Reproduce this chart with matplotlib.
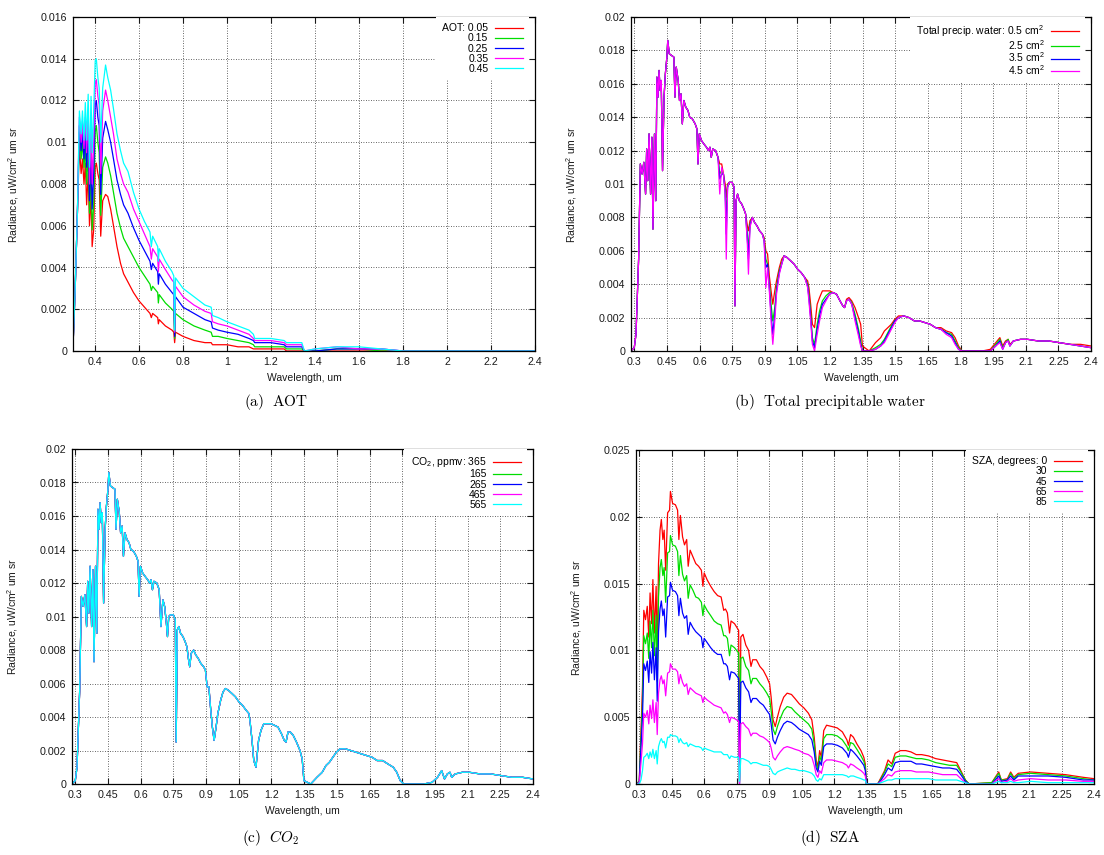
import numpy as np
import matplotlib
matplotlib.use("Agg")
import matplotlib.pyplot as plt
from matplotlib.ticker import MultipleLocator, FuncFormatter

plt.rcParams['font.family'] = ['Liberation Sans', 'DejaVu Sans']
plt.rcParams['mathtext.fontset'] = 'custom'
plt.rcParams['mathtext.rm'] = 'Liberation Sans'
plt.rcParams['mathtext.it'] = 'Liberation Sans:italic'

# ---------------- (a) AOT ----------------
wl_a = [0.300, 0.310, 0.320, 0.329, 0.337, 0.343, 0.350, 0.356, 0.362, 0.369,
        0.375, 0.382, 0.387, 0.394, 0.401, 0.406, 0.413, 0.419, 0.426, 0.435,
        0.448, 0.458, 0.471, 0.484, 0.500, 0.516, 0.530, 0.550, 0.575, 0.600,
        0.625, 0.650, 0.656, 0.662, 0.685, 0.688, 0.692, 0.720, 0.750, 0.758,
        0.762, 0.766, 0.800, 0.850, 0.900, 0.928, 0.934, 0.960, 1.000, 1.050,
        1.100, 1.120, 1.126, 1.200, 1.260, 1.270, 1.340, 1.352, 1.400, 1.500,
        1.600, 1.700, 1.800, 2.000, 2.400]
aot_005 = [0.0002, 0.0030, 0.0066, 0.0098, 0.0085, 0.0092, 0.0080, 0.0090, 0.0070, 0.0085,
           0.0060, 0.0075, 0.0050, 0.0058, 0.0088, 0.0090, 0.0085, 0.0082, 0.0055, 0.0072,
           0.0075, 0.0074, 0.0068, 0.0060, 0.0050, 0.0042, 0.0037, 0.0033, 0.0028, 0.0024,
           0.0021, 0.0018, 0.0016, 0.0018, 0.0016, 0.0013, 0.0015, 0.0012, 0.0010, 0.0009,
           0.0004, 0.0009, 0.0007, 0.0005, 0.0004, 0.0004, 0.0003, 0.0003, 0.0003, 0.0002,
           0.0002, 0.0001, 0.0001, 0.0001, 0.0001, 0.0, 0.0, 0.0, 0.0, 0.0,
           0.0, 0.0, 0.0, 0.0, 0.0]
aot_015 = [0.0002, 0.0030, 0.0066, 0.0105, 0.0092, 0.0100, 0.0088, 0.0098, 0.0080, 0.0095,
           0.0066, 0.0085, 0.0058, 0.0070, 0.0105, 0.0108, 0.0100, 0.0095, 0.0065, 0.0088,
           0.0093, 0.0090, 0.0084, 0.0076, 0.0066, 0.0059, 0.0054, 0.0050, 0.0045, 0.0040,
           0.0036, 0.0032, 0.0029, 0.0031, 0.0028, 0.0023, 0.0027, 0.0023, 0.0020, 0.0019,
           0.0006, 0.0018, 0.0015, 0.0012, 0.0010, 0.0009, 0.0007, 0.0007, 0.0006, 0.0005,
           0.0004, 0.0003, 0.0002, 0.0002, 0.0002, 0.0001, 0.0001, 0.0, 0.0, 0.0001,
           0.0001, 0.0, 0.0, 0.0, 0.0]
aot_025 = [0.0002, 0.0030, 0.0066, 0.0108, 0.0096, 0.0105, 0.0092, 0.0105, 0.0088, 0.0105,
           0.0072, 0.0095, 0.0068, 0.0085, 0.0118, 0.0120, 0.0112, 0.0108, 0.0075, 0.0102,
           0.0110, 0.0106, 0.0100, 0.0092, 0.0082, 0.0075, 0.0070, 0.0066, 0.0059, 0.0053,
           0.0048, 0.0043, 0.0039, 0.0042, 0.0038, 0.0032, 0.0037, 0.0032, 0.0028, 0.0027,
           0.0007, 0.0026, 0.0021, 0.0018, 0.0015, 0.0014, 0.0011, 0.0010, 0.0009, 0.0008,
           0.0006, 0.0005, 0.0004, 0.0004, 0.0003, 0.0002, 0.0002, 0.0, 0.0, 0.0001,
           0.0001, 0.0001, 0.0, 0.0, 0.0]
aot_035 = [0.0002, 0.0030, 0.0066, 0.0112, 0.0100, 0.0110, 0.0097, 0.0112, 0.0095, 0.0115,
           0.0080, 0.0108, 0.0080, 0.0100, 0.0128, 0.0130, 0.0122, 0.0118, 0.0085, 0.0115,
           0.0125, 0.0120, 0.0112, 0.0104, 0.0092, 0.0085, 0.0080, 0.0076, 0.0068, 0.0062,
           0.0056, 0.0050, 0.0044, 0.0049, 0.0045, 0.0038, 0.0044, 0.0039, 0.0034, 0.0033,
           0.0009, 0.0031, 0.0026, 0.0022, 0.0019, 0.0018, 0.0014, 0.0013, 0.0012, 0.0010,
           0.0008, 0.0006, 0.0005, 0.0005, 0.0004, 0.0003, 0.0003, 0.0, 0.0001, 0.0002,
           0.0001, 0.0001, 0.0, 0.0, 0.0]
aot_045 = [0.0002, 0.0030, 0.0066, 0.0115, 0.0104, 0.0115, 0.0101, 0.0119, 0.0101, 0.0123,
           0.0088, 0.0122, 0.0095, 0.0115, 0.0139, 0.0140, 0.0131, 0.0126, 0.0100, 0.0126,
           0.0137, 0.0131, 0.0125, 0.0116, 0.0104, 0.0096, 0.0090, 0.0086, 0.0076, 0.0068,
           0.0062, 0.0057, 0.0050, 0.0055, 0.0050, 0.0043, 0.0049, 0.0043, 0.0038, 0.0036,
           0.0010, 0.0035, 0.0030, 0.0026, 0.0022, 0.0021, 0.0017, 0.0016, 0.0014, 0.0012,
           0.0010, 0.0008, 0.0006, 0.0006, 0.0005, 0.0004, 0.0004, 0.0, 0.0001, 0.0002,
           0.0002, 0.0001, 0.0, 0.0, 0.0]
aot_labels = ['AOT: 0.05', '0.15', '0.25', '0.35', '0.45']

# ---------------- (b) total precipitable water / (c) CO2 ----------------
wl_b = [0.285, 0.300, 0.308, 0.320, 0.328, 0.336, 0.344, 0.352, 0.357, 0.362,
        0.368, 0.375, 0.381, 0.386, 0.393, 0.399, 0.404, 0.409, 0.414, 0.419,
        0.424, 0.430, 0.437, 0.443, 0.450, 0.454, 0.461, 0.471, 0.482, 0.487,
        0.493, 0.502, 0.508, 0.515, 0.521, 0.528, 0.537, 0.547, 0.555, 0.567,
        0.580, 0.588, 0.593, 0.599, 0.609, 0.620, 0.632, 0.641, 0.648, 0.654,
        0.661, 0.674, 0.685, 0.693, 0.702, 0.710, 0.718, 0.723, 0.729, 0.737,
        0.750, 0.759, 0.763, 0.768, 0.775, 0.783, 0.794, 0.804, 0.812, 0.820,
        0.825, 0.832, 0.843, 0.853, 0.864, 0.876, 0.889, 0.897, 0.905, 0.913,
        0.921, 0.929, 0.937, 0.946, 0.954, 0.967, 0.978, 0.989, 1.002, 1.019,
        1.035, 1.051, 1.067, 1.084, 1.097, 1.103, 1.111, 1.119, 1.129, 1.141,
        1.152, 1.165, 1.181, 1.198, 1.214, 1.230, 1.246, 1.259, 1.267, 1.276,
        1.287, 1.300, 1.315, 1.331, 1.341, 1.349, 1.380, 1.409, 1.433, 1.450,
        1.466, 1.482, 1.498, 1.515, 1.539, 1.563, 1.588, 1.612, 1.637, 1.661,
        1.685, 1.710, 1.734, 1.759, 1.775, 1.791, 1.807, 1.900, 1.937, 1.962,
        1.981, 1.994, 2.007, 2.019, 2.027, 2.043, 2.076, 2.108, 2.157, 2.206,
        2.254, 2.303, 2.352, 2.400]
water_05 = [0.0, 0.0002, 0.0010, 0.0055, 0.0112, 0.0106, 0.0113, 0.0094, 0.0121, 0.0102,
            0.0130, 0.0094, 0.0128, 0.0073, 0.0130, 0.0090, 0.0164, 0.0152, 0.0168, 0.0156,
            0.0162, 0.0108, 0.0152, 0.0166, 0.0176, 0.0186, 0.0178, 0.0177, 0.0176, 0.0152,
            0.0170, 0.0162, 0.0150, 0.0154, 0.0136, 0.0150, 0.0146, 0.0144, 0.0140, 0.0139,
            0.0136, 0.0133, 0.0112, 0.0130, 0.0126, 0.0124, 0.0122, 0.0120, 0.0122, 0.0116,
            0.0121, 0.0120, 0.0116, 0.0112, 0.0112, 0.0106, 0.0100, 0.0092, 0.0100, 0.0101,
            0.0101, 0.0098, 0.0027, 0.0090, 0.0094, 0.0090, 0.0088, 0.0085, 0.0082, 0.0075,
            0.0072, 0.0078, 0.0080, 0.0077, 0.0075, 0.0072, 0.0070, 0.0068, 0.0060, 0.0058,
            0.0045, 0.0036, 0.0028, 0.0036, 0.0042, 0.0050, 0.0055, 0.0057, 0.0056, 0.0054,
            0.0052, 0.0049, 0.0047, 0.0044, 0.0042, 0.0038, 0.0028, 0.0016, 0.0014, 0.0028,
            0.0032, 0.0036, 0.0036, 0.0036, 0.0035, 0.0034, 0.0030, 0.0027, 0.0026, 0.0031,
            0.0032, 0.0030, 0.0026, 0.0020, 0.0016, 0.0003, 0.0, 0.0005, 0.0008, 0.0012,
            0.0014, 0.0016, 0.0019, 0.0021, 0.0021, 0.0020, 0.0018, 0.0018, 0.0017, 0.0016,
            0.0014, 0.0014, 0.0012, 0.0011, 0.0008, 0.0003, 0.0, 0.0, 0.0001, 0.0005,
            0.0008, 0.0003, 0.0006, 0.0007, 0.0004, 0.0006, 0.0007, 0.0007, 0.0006, 0.0006,
            0.0005, 0.0004, 0.0004, 0.0003]
water_25 = [0.0, 0.0002, 0.0010, 0.0055, 0.0112, 0.0106, 0.0113, 0.0094, 0.0121, 0.0102,
            0.0130, 0.0094, 0.0128, 0.0073, 0.0130, 0.0090, 0.0164, 0.0152, 0.0168, 0.0156,
            0.0162, 0.0108, 0.0152, 0.0166, 0.0176, 0.0186, 0.0178, 0.0177, 0.0176, 0.0152,
            0.0170, 0.0162, 0.0150, 0.0154, 0.0136, 0.0150, 0.0146, 0.0144, 0.0140, 0.0139,
            0.0136, 0.0133, 0.0112, 0.0130, 0.0126, 0.0124, 0.0122, 0.0120, 0.0122, 0.0116,
            0.0121, 0.0120, 0.0116, 0.0106, 0.0108, 0.0106, 0.0096, 0.0080, 0.0099, 0.0101,
            0.0101, 0.0098, 0.0027, 0.0090, 0.0094, 0.0090, 0.0088, 0.0085, 0.0082, 0.0070,
            0.0060, 0.0076, 0.0080, 0.0077, 0.0075, 0.0072, 0.0070, 0.0067, 0.0055, 0.0052,
            0.0040, 0.0028, 0.0018, 0.0026, 0.0038, 0.0048, 0.0053, 0.0057, 0.0056, 0.0054,
            0.0052, 0.0049, 0.0047, 0.0044, 0.0040, 0.0034, 0.0022, 0.0008, 0.0004, 0.0016,
            0.0024, 0.0030, 0.0033, 0.0035, 0.0035, 0.0034, 0.0030, 0.0027, 0.0026, 0.0030,
            0.0031, 0.0029, 0.0022, 0.0013, 0.0006, 0.0, 0.0, 0.0002, 0.0004, 0.0007,
            0.0011, 0.0015, 0.0018, 0.0020, 0.0021, 0.0020, 0.0018, 0.0018, 0.0017, 0.0016,
            0.0014, 0.0013, 0.0011, 0.0010, 0.0006, 0.0002, 0.0, 0.0, 0.0, 0.0004,
            0.0007, 0.0002, 0.0005, 0.0007, 0.0003, 0.0006, 0.0007, 0.0007, 0.0006, 0.0006,
            0.0005, 0.0004, 0.0003, 0.0002]
water_35 = [0.0, 0.0002, 0.0010, 0.0055, 0.0112, 0.0106, 0.0113, 0.0094, 0.0121, 0.0102,
            0.0130, 0.0094, 0.0128, 0.0073, 0.0130, 0.0090, 0.0164, 0.0152, 0.0168, 0.0156,
            0.0162, 0.0108, 0.0152, 0.0166, 0.0176, 0.0186, 0.0178, 0.0177, 0.0176, 0.0152,
            0.0170, 0.0162, 0.0150, 0.0154, 0.0136, 0.0150, 0.0146, 0.0144, 0.0140, 0.0139,
            0.0136, 0.0133, 0.0112, 0.0130, 0.0126, 0.0124, 0.0122, 0.0120, 0.0122, 0.0116,
            0.0121, 0.0120, 0.0116, 0.0103, 0.0106, 0.0106, 0.0095, 0.0070, 0.0098, 0.0101,
            0.0101, 0.0098, 0.0027, 0.0090, 0.0094, 0.0090, 0.0088, 0.0085, 0.0082, 0.0067,
            0.0055, 0.0075, 0.0080, 0.0077, 0.0075, 0.0072, 0.0070, 0.0066, 0.0050, 0.0052,
            0.0038, 0.0022, 0.0010, 0.0022, 0.0036, 0.0047, 0.0052, 0.0057, 0.0056, 0.0054,
            0.0052, 0.0049, 0.0047, 0.0044, 0.0039, 0.0032, 0.0020, 0.0006, 0.0002, 0.0013,
            0.0021, 0.0028, 0.0031, 0.0034, 0.0035, 0.0034, 0.0030, 0.0027, 0.0026, 0.0030,
            0.0031, 0.0028, 0.0020, 0.0011, 0.0004, 0.0, 0.0, 0.0001, 0.0003, 0.0006,
            0.0010, 0.0014, 0.0018, 0.0020, 0.0021, 0.0020, 0.0018, 0.0018, 0.0017, 0.0016,
            0.0014, 0.0013, 0.0011, 0.0009, 0.0005, 0.0001, 0.0, 0.0, 0.0, 0.0003,
            0.0006, 0.0001, 0.0005, 0.0006, 0.0003, 0.0006, 0.0007, 0.0007, 0.0006, 0.0006,
            0.0005, 0.0004, 0.0003, 0.0002]
water_45 = [0.0, 0.0002, 0.0010, 0.0055, 0.0112, 0.0106, 0.0113, 0.0094, 0.0121, 0.0102,
            0.0130, 0.0094, 0.0128, 0.0073, 0.0130, 0.0090, 0.0164, 0.0152, 0.0168, 0.0156,
            0.0162, 0.0108, 0.0152, 0.0166, 0.0176, 0.0186, 0.0178, 0.0177, 0.0176, 0.0152,
            0.0170, 0.0162, 0.0150, 0.0154, 0.0136, 0.0150, 0.0146, 0.0144, 0.0140, 0.0139,
            0.0136, 0.0133, 0.0112, 0.0130, 0.0126, 0.0124, 0.0122, 0.0120, 0.0122, 0.0116,
            0.0121, 0.0120, 0.0116, 0.0094, 0.0110, 0.0106, 0.0094, 0.0055, 0.0098, 0.0101,
            0.0101, 0.0098, 0.0027, 0.0090, 0.0094, 0.0090, 0.0088, 0.0085, 0.0082, 0.0064,
            0.0046, 0.0074, 0.0080, 0.0077, 0.0075, 0.0072, 0.0070, 0.0066, 0.0038, 0.0050,
            0.0036, 0.0018, 0.0004, 0.0018, 0.0034, 0.0046, 0.0052, 0.0057, 0.0056, 0.0054,
            0.0052, 0.0049, 0.0047, 0.0044, 0.0038, 0.0030, 0.0018, 0.0004, 0.0, 0.0010,
            0.0018, 0.0026, 0.0030, 0.0034, 0.0035, 0.0034, 0.0030, 0.0027, 0.0026, 0.0030,
            0.0031, 0.0028, 0.0018, 0.0009, 0.0003, 0.0, 0.0, 0.0001, 0.0003, 0.0005,
            0.0009, 0.0013, 0.0017, 0.0020, 0.0021, 0.0020, 0.0018, 0.0018, 0.0017, 0.0016,
            0.0014, 0.0013, 0.0010, 0.0008, 0.0004, 0.0001, 0.0, 0.0, 0.0, 0.0003,
            0.0005, 0.0001, 0.0005, 0.0006, 0.0003, 0.0006, 0.0007, 0.0007, 0.0006, 0.0006,
            0.0005, 0.0004, 0.0003, 0.0002]
water_labels = ['Total precip. water: 0.5 cm$^2$', '2.5 cm$^2$', '3.5 cm$^2$', '4.5 cm$^2$']

# the five CO2 runs are indistinguishable in the figure
co2_rad = [0.0, 0.0002, 0.0010, 0.0055, 0.0112, 0.0106, 0.0113, 0.0094, 0.0121, 0.0102,
           0.0130, 0.0094, 0.0128, 0.0073, 0.0130, 0.0090, 0.0164, 0.0152, 0.0168, 0.0156,
           0.0162, 0.0108, 0.0152, 0.0166, 0.0176, 0.0186, 0.0178, 0.0177, 0.0176, 0.0152,
           0.0170, 0.0162, 0.0150, 0.0154, 0.0136, 0.0150, 0.0146, 0.0144, 0.0140, 0.0139,
           0.0136, 0.0133, 0.0112, 0.0130, 0.0126, 0.0124, 0.0122, 0.0120, 0.0122, 0.0116,
           0.0121, 0.0120, 0.0116, 0.0094, 0.0110, 0.0106, 0.0096, 0.0088, 0.0100, 0.0101,
           0.0101, 0.0098, 0.0025, 0.0092, 0.0094, 0.0090, 0.0088, 0.0085, 0.0082, 0.0074,
           0.0070, 0.0078, 0.0080, 0.0077, 0.0075, 0.0072, 0.0070, 0.0068, 0.0058, 0.0058,
           0.0045, 0.0034, 0.0026, 0.0034, 0.0042, 0.0050, 0.0055, 0.0057, 0.0056, 0.0054,
           0.0052, 0.0049, 0.0047, 0.0044, 0.0042, 0.0036, 0.0026, 0.0014, 0.0010, 0.0026,
           0.0032, 0.0036, 0.0036, 0.0036, 0.0035, 0.0034, 0.0030, 0.0026, 0.0025, 0.0031,
           0.0031, 0.0029, 0.0025, 0.0020, 0.0015, 0.0002, 0.0, 0.0004, 0.0007, 0.0011,
           0.0013, 0.0016, 0.0019, 0.0021, 0.0021, 0.0020, 0.0019, 0.0018, 0.0017, 0.0016,
           0.0014, 0.0014, 0.0012, 0.0010, 0.0007, 0.0002, 0.0, 0.0, 0.0001, 0.0004,
           0.0008, 0.0003, 0.0006, 0.0007, 0.0004, 0.0006, 0.0007, 0.0007, 0.0006, 0.0006,
           0.0005, 0.0004, 0.0004, 0.0003]
co2_labels = ['CO$_2$, ppmv: 365', '165', '265', '465', '565']

# ---------------- (d) SZA ----------------
wl_d = [0.285, 0.300, 0.308, 0.315, 0.321, 0.329, 0.337, 0.344, 0.350, 0.357,
        0.363, 0.370, 0.378, 0.383, 0.389, 0.396, 0.402, 0.409, 0.415, 0.422,
        0.431, 0.440, 0.444, 0.454, 0.467, 0.477, 0.483, 0.490, 0.500, 0.509,
        0.519, 0.526, 0.535, 0.548, 0.561, 0.574, 0.587, 0.594, 0.600, 0.613,
        0.630, 0.646, 0.662, 0.678, 0.690, 0.698, 0.707, 0.717, 0.724, 0.740,
        0.759, 0.763, 0.769, 0.779, 0.792, 0.805, 0.816, 0.824, 0.841, 0.857,
        0.873, 0.889, 0.902, 0.909, 0.918, 0.928, 0.938, 0.951, 0.967, 0.983,
        1.003, 1.019, 1.039, 1.060, 1.081, 1.097, 1.108, 1.117, 1.125, 1.133,
        1.141, 1.152, 1.165, 1.190, 1.214, 1.238, 1.259, 1.266, 1.276, 1.289,
        1.305, 1.324, 1.337, 1.344, 1.349, 1.401, 1.417, 1.433, 1.449, 1.466,
        1.482, 1.506, 1.531, 1.555, 1.579, 1.604, 1.636, 1.669, 1.701, 1.733,
        1.766, 1.785, 1.806, 1.823, 1.928, 1.960, 1.972, 2.000, 2.015, 2.030,
        2.050, 2.107, 2.188, 2.269, 2.350, 2.400]
sza_0 = [0.0, 0.0002, 0.0040, 0.0073, 0.0130, 0.0123, 0.0133, 0.0110, 0.0143, 0.0120,
         0.0153, 0.0113, 0.0148, 0.0090, 0.0165, 0.0190, 0.0198, 0.0183, 0.0190, 0.0160,
         0.0203, 0.0205, 0.0219, 0.0210, 0.0209, 0.0205, 0.0183, 0.0201, 0.0185, 0.0179,
         0.0183, 0.0163, 0.0175, 0.0170, 0.0165, 0.0163, 0.0160, 0.0148, 0.0158, 0.0153,
         0.0148, 0.0144, 0.0141, 0.0140, 0.0130, 0.0131, 0.0128, 0.0113, 0.0122, 0.0120,
         0.0115, 0.0003, 0.0110, 0.0112, 0.0104, 0.0100, 0.0088, 0.0093, 0.0093, 0.0088,
         0.0085, 0.0080, 0.0075, 0.0065, 0.0048, 0.0043, 0.0050, 0.0058, 0.0065, 0.0068,
         0.0067, 0.0064, 0.0060, 0.0057, 0.0053, 0.0048, 0.0035, 0.0018, 0.0013, 0.0025,
         0.0020, 0.0040, 0.0044, 0.0043, 0.0042, 0.0039, 0.0033, 0.0029, 0.0037, 0.0035,
         0.0030, 0.0025, 0.0020, 0.0015, 0.0, 0.0, 0.0005, 0.0010, 0.0018, 0.0015,
         0.0023, 0.0025, 0.0025, 0.0024, 0.0022, 0.0022, 0.0021, 0.0019, 0.0018, 0.0017,
         0.0016, 0.0010, 0.0003, 0.0, 0.0001, 0.0009, 0.0003, 0.0004, 0.0009, 0.0005,
         0.0008, 0.0009, 0.0008, 0.0007, 0.0005, 0.0004]
sza_30 = [0.0, 0.0002, 0.0034, 0.0062, 0.0111, 0.0105, 0.0113, 0.0094, 0.0122, 0.0102,
          0.0130, 0.0096, 0.0126, 0.0077, 0.0140, 0.0162, 0.0168, 0.0156, 0.0162, 0.0136,
          0.0173, 0.0174, 0.0186, 0.0179, 0.0178, 0.0174, 0.0156, 0.0171, 0.0157, 0.0152,
          0.0156, 0.0139, 0.0149, 0.0145, 0.0140, 0.0139, 0.0136, 0.0126, 0.0134, 0.0130,
          0.0126, 0.0122, 0.0120, 0.0119, 0.0111, 0.0111, 0.0109, 0.0096, 0.0104, 0.0102,
          0.0098, 0.0001, 0.0094, 0.0095, 0.0088, 0.0085, 0.0075, 0.0079, 0.0079, 0.0075,
          0.0072, 0.0068, 0.0064, 0.0055, 0.0041, 0.0037, 0.0043, 0.0049, 0.0055, 0.0058,
          0.0057, 0.0054, 0.0051, 0.0048, 0.0045, 0.0041, 0.0030, 0.0015, 0.0011, 0.0021,
          0.0017, 0.0034, 0.0037, 0.0037, 0.0036, 0.0033, 0.0028, 0.0025, 0.0031, 0.0030,
          0.0026, 0.0021, 0.0017, 0.0013, 0.0, 0.0, 0.0004, 0.0009, 0.0015, 0.0013,
          0.0020, 0.0021, 0.0021, 0.0020, 0.0019, 0.0019, 0.0018, 0.0016, 0.0015, 0.0014,
          0.0014, 0.0009, 0.0003, 0.0, 0.0001, 0.0008, 0.0003, 0.0003, 0.0008, 0.0004,
          0.0007, 0.0008, 0.0007, 0.0006, 0.0004, 0.0003]
sza_45 = [0.0, 0.0001, 0.0028, 0.0050, 0.0090, 0.0085, 0.0092, 0.0076, 0.0099, 0.0083,
          0.0106, 0.0078, 0.0102, 0.0062, 0.0114, 0.0131, 0.0137, 0.0126, 0.0131, 0.0110,
          0.0140, 0.0141, 0.0151, 0.0145, 0.0144, 0.0141, 0.0126, 0.0139, 0.0128, 0.0124,
          0.0126, 0.0112, 0.0121, 0.0117, 0.0114, 0.0112, 0.0110, 0.0102, 0.0109, 0.0106,
          0.0102, 0.0099, 0.0097, 0.0097, 0.0090, 0.0090, 0.0088, 0.0078, 0.0084, 0.0083,
          0.0079, 0.0, 0.0076, 0.0077, 0.0072, 0.0069, 0.0061, 0.0064, 0.0064, 0.0061,
          0.0059, 0.0055, 0.0052, 0.0045, 0.0033, 0.0030, 0.0035, 0.0040, 0.0045, 0.0047,
          0.0046, 0.0044, 0.0041, 0.0039, 0.0037, 0.0033, 0.0024, 0.0012, 0.0009, 0.0017,
          0.0014, 0.0028, 0.0030, 0.0030, 0.0029, 0.0027, 0.0023, 0.0020, 0.0026, 0.0024,
          0.0021, 0.0017, 0.0014, 0.0010, 0.0, 0.0, 0.0003, 0.0007, 0.0012, 0.0010,
          0.0016, 0.0017, 0.0017, 0.0017, 0.0015, 0.0015, 0.0014, 0.0013, 0.0012, 0.0012,
          0.0011, 0.0007, 0.0002, 0.0, 0.0, 0.0006, 0.0002, 0.0003, 0.0006, 0.0003,
          0.0006, 0.0006, 0.0006, 0.0005, 0.0003, 0.0003]
sza_65 = [0.0, 0.0001, 0.0016, 0.0030, 0.0053, 0.0050, 0.0055, 0.0045, 0.0059, 0.0049,
          0.0063, 0.0046, 0.0061, 0.0037, 0.0068, 0.0078, 0.0081, 0.0075, 0.0078, 0.0066,
          0.0083, 0.0084, 0.0090, 0.0086, 0.0086, 0.0084, 0.0075, 0.0082, 0.0076, 0.0073,
          0.0075, 0.0067, 0.0072, 0.0070, 0.0068, 0.0067, 0.0066, 0.0061, 0.0065, 0.0063,
          0.0061, 0.0059, 0.0058, 0.0057, 0.0053, 0.0054, 0.0052, 0.0046, 0.0050, 0.0049,
          0.0047, 0.0, 0.0045, 0.0046, 0.0043, 0.0041, 0.0036, 0.0038, 0.0038, 0.0036,
          0.0035, 0.0033, 0.0031, 0.0027, 0.0020, 0.0018, 0.0021, 0.0024, 0.0027, 0.0028,
          0.0027, 0.0026, 0.0025, 0.0023, 0.0022, 0.0020, 0.0014, 0.0007, 0.0005, 0.0010,
          0.0008, 0.0016, 0.0018, 0.0018, 0.0017, 0.0016, 0.0014, 0.0012, 0.0015, 0.0014,
          0.0012, 0.0010, 0.0008, 0.0006, 0.0, 0.0, 0.0002, 0.0004, 0.0007, 0.0006,
          0.0009, 0.0010, 0.0010, 0.0010, 0.0009, 0.0009, 0.0009, 0.0008, 0.0007, 0.0007,
          0.0007, 0.0004, 0.0001, 0.0, 0.0, 0.0004, 0.0001, 0.0002, 0.0004, 0.0002,
          0.0003, 0.0004, 0.0003, 0.0003, 0.0002, 0.0002]
sza_85 = [0.0, 0.0, 0.0003, 0.0010, 0.0020, 0.0021, 0.0023, 0.0019, 0.0024, 0.0020,
          0.0026, 0.0019, 0.0025, 0.0015, 0.0028, 0.0032, 0.0034, 0.0031, 0.0032, 0.0027,
          0.0035, 0.0035, 0.0037, 0.0036, 0.0036, 0.0035, 0.0031, 0.0034, 0.0031, 0.0030,
          0.0031, 0.0028, 0.0030, 0.0029, 0.0028, 0.0028, 0.0027, 0.0025, 0.0027, 0.0026,
          0.0025, 0.0024, 0.0024, 0.0024, 0.0022, 0.0022, 0.0022, 0.0019, 0.0021, 0.0020,
          0.0020, 0.0002, 0.0019, 0.0019, 0.0018, 0.0017, 0.0015, 0.0016, 0.0016, 0.0015,
          0.0014, 0.0014, 0.0013, 0.0011, 0.0008, 0.0007, 0.0009, 0.0010, 0.0011, 0.0012,
          0.0011, 0.0011, 0.0010, 0.0010, 0.0009, 0.0008, 0.0006, 0.0003, 0.0002, 0.0004,
          0.0003, 0.0007, 0.0007, 0.0007, 0.0007, 0.0007, 0.0006, 0.0005, 0.0006, 0.0006,
          0.0005, 0.0004, 0.0003, 0.0003, 0.0, 0.0, 0.0001, 0.0002, 0.0003, 0.0003,
          0.0004, 0.0004, 0.0004, 0.0004, 0.0004, 0.0004, 0.0004, 0.0003, 0.0003, 0.0003,
          0.0003, 0.0002, 0.0001, 0.0, 0.0, 0.0002, 0.0001, 0.0001, 0.0002, 0.0001,
          0.0001, 0.0002, 0.0001, 0.0001, 0.0001, 0.0001]
sza_labels = ['SZA, degrees: 0', '30', '45', '65', '85']

colors = ['#ff0000', '#00dd00', '#0000ff', '#ff00ff', '#00ffff']

W, H = 1104, 855


def px_box(left, top, right, bottom):
    # axes rectangle given in pixels of the final image
    return [left / W, 1 - bottom / H, (right - left) / W, (bottom - top) / H]


def draw_panel(ax, wl, series, labels, xlim, xstep, ymax, ystep, lab_spacing=0.02):
    for vals, lab, col in zip(series, labels, colors):
        ax.plot(wl, vals, color=col, lw=0.9, label=lab)

    ax.set_xlim(*xlim)
    ax.set_ylim(0, ymax)
    ax.xaxis.set_major_locator(MultipleLocator(xstep))
    ax.yaxis.set_major_locator(MultipleLocator(ystep))
    fmt = FuncFormatter(lambda v, p: '%g' % round(v, 6))
    ax.xaxis.set_major_formatter(fmt)
    ax.yaxis.set_major_formatter(fmt)

    ax.tick_params(direction='in', length=4, width=0.8, top=True, right=True,
                   labelsize=7.7, pad=4, colors='#1a1a1a')
    for sp in ax.spines.values():
        sp.set_linewidth(0.9)
    ax.set_axisbelow(True)
    ax.grid(True, linestyle=(0, (1, 2)), color='#333333', linewidth=0.6)

    ax.set_xlabel('Wavelength, um', fontsize=7.5, color='#1a1a1a')
    ax.set_ylabel('Radiance, uW/cm$^2$ um sr', fontsize=7.5, color='#1a1a1a')
    bb = ax.get_position()
    ax.xaxis.set_label_coords(0.5, -22 / (bb.height * H))
    ax.yaxis.set_label_coords(-52 / (bb.width * W), 0.5)

    ax.legend(loc='upper right', bbox_to_anchor=(1 - 6 / (bb.width * W), 1),
              borderaxespad=0, frameon=True, fancybox=False, edgecolor='none',
              facecolor='white', framealpha=1, markerfirst=False,
              handlelength=2.7, handletextpad=0.6, labelspacing=lab_spacing,
              borderpad=0.6, fontsize=7.5)


fig = plt.figure(figsize=(W / 100, H / 100), dpi=100)

ax_a = fig.add_axes(px_box(73, 17, 535, 351))
ax_b = fig.add_axes(px_box(631, 17, 1091, 351))
ax_c = fig.add_axes(px_box(72, 449, 533, 784))
ax_d = fig.add_axes(px_box(636, 450, 1094, 784))

draw_panel(ax_a, wl_a, [aot_005, aot_015, aot_025, aot_035, aot_045], aot_labels,
           (0.3, 2.4), 0.2, 0.016, 0.002)
draw_panel(ax_b, wl_b, [water_05, water_25, water_35, water_45], water_labels,
           (0.285, 2.4), 0.15, 0.02, 0.002, lab_spacing=-0.12)
draw_panel(ax_c, wl_b, [co2_rad] * 5, co2_labels,
           (0.285, 2.4), 0.15, 0.02, 0.002)
draw_panel(ax_d, wl_d, [sza_0, sza_30, sza_45, sza_65, sza_85], sza_labels,
           (0.285, 2.4), 0.15, 0.025, 0.005)

# sub-figure captions (LaTeX style)
cap = dict(math_fontfamily='cm', fontsize=11, ha='center', va='center')
fig.text(276 / W, 1 - 402 / H, r'$\mathrm{(a)\ \ AOT}$', **cap)
fig.text(830 / W, 1 - 402 / H, r'$\mathrm{(b)\ \ Total\ precipitable\ water}$', **cap)
fig.text(270 / W, 1 - 838 / H, r'$\mathrm{(c)}\ \ CO_2$', **cap)
fig.text(830 / W, 1 - 838 / H, r'$\mathrm{(d)\ \ SZA}$', **cap)

fig.savefig('out.png', dpi=100)
